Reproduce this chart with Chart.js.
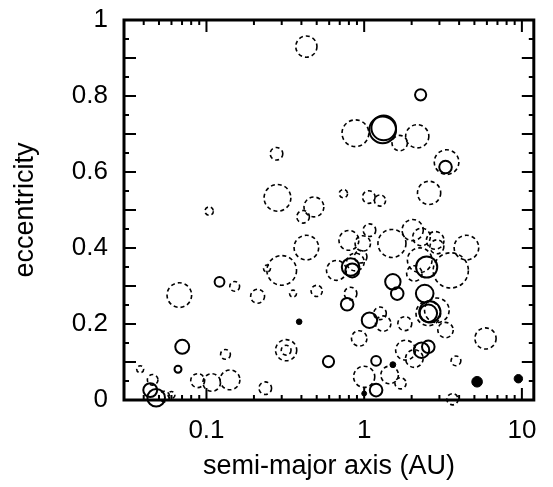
<!DOCTYPE html>
<html>
<head>
<meta charset="utf-8">
<script src="https://cdn.jsdelivr.net/npm/chart.js@4.4.1/dist/chart.umd.min.js"></script>
<style>
  html, body { margin: 0; padding: 0; background: #fff; }
</style>
</head>
<body>
<canvas id="ecc" width="553" height="487"></canvas>
<script>
// planets: semi-major axis (AU), eccentricity, mass (M_J)
// dashed outline
const dashedA = [0.43, 0.88, 1.68, 2.17, 3.33, 0.278, 2.58, 0.738, 1.07, 1.26, 0.282, 0.104, 0.48, 0.41,
  0.43, 4.45, 1.50, 1.08, 0.80, 0.98, 2.03, 2.31, 2.82, 2.89, 2.25, 3.54, 2.08, 0.88, 0.667, 0.95,
  0.30, 0.242, 0.0673, 0.151, 0.211, 0.354, 0.50, 0.82, 2.55, 2.89, 1.26, 1.32, 1.81, 3.28, 0.93,
  5.88, 1.83, 2.08, 3.82, 1.0, 1.45, 1.70, 3.63, 0.32, 0.32, 0.132, 0.088, 0.108, 0.141, 0.236,
  0.038, 0.0456, 0.060, 0.054];
const dashedE = [0.930, 0.702, 0.676, 0.694, 0.626, 0.648, 0.545, 0.543, 0.534, 0.525, 0.532, 0.497, 0.508, 0.482,
  0.401, 0.401, 0.412, 0.447, 0.420, 0.412, 0.447, 0.429, 0.420, 0.403, 0.368, 0.341, 0.333, 0.363, 0.341, 0.377,
  0.341, 0.346, 0.276, 0.299, 0.273, 0.280, 0.287, 0.280, 0.228, 0.236, 0.228, 0.201, 0.201, 0.184, 0.162,
  0.162, 0.131, 0.109, 0.103, 0.061, 0.066, 0.044, 0.002, 0.131, 0.131, 0.120, 0.051, 0.046, 0.053, 0.031,
  0.081, 0.053, 0.013, 0.009];
const dashedM = [9.5, 19.2, 3.65, 12.5, 14.9, 2.0, 12.5, 0.59, 2.0, 1.4, 19.2, 0.59, 7.8, 2.0,
  14.9, 14.9, 22, 2.0, 7.8, 3.65, 9.5, 5.45, 5.45, 2.7, 14.9, 43.6, 3.65, 5.45, 7.8, 2.0,
  26, 0.34, 14.9, 0.94, 2.7, 0.34, 1.4, 2.0, 14.9, 14.9, 2.0, 3.65, 2.7, 3.65, 3.65,
  9.5, 7.8, 5.45, 0.94, 9.5, 5.45, 1.4, 1.4, 9.5, 0.94, 0.94, 2.7, 5.45, 7.8, 2.0,
  0.34, 1.2, 0.34, 1.2];

// solid outline
const solidA = [2.28, 1.31, 1.33, 3.28, 0.82, 0.84, 2.49, 1.52, 1.62, 0.78, 2.42, 2.61, 2.55, 1.08,
  2.31, 2.55, 1.19, 1.19, 0.594, 0.0702, 0.066, 0.121, 0.044, 0.048];
const solidE = [0.803, 0.711, 0.716, 0.613, 0.350, 0.341, 0.350, 0.311, 0.280, 0.252, 0.280, 0.232, 0.228, 0.210,
  0.131, 0.140, 0.103, 0.026, 0.101, 0.140, 0.081, 0.311, 0.026, 0.006];
const solidM = [1.4, 19.2, 14.9, 2.0, 5.45, 2.7, 9.5, 3.65, 2.0, 2.0, 5.45, 9.5, 5.45, 3.65,
  3.65, 2.0, 0.94, 2.0, 1.4, 2.7, 0.34, 0.94, 2.7, 5.45];

// solar system (filled)
const solarA = [0.387, 1.0, 1.52, 5.2, 9.5];
const solarE = [0.206, 0.017, 0.093, 0.048, 0.056];
const solarM = [0.18, 0.12, 0.2, 1.2, 0.6];

const xTicks = [0.1, 1, 10];

const radius = m => 5 * Math.cbrt(m);
const pts = (a, e, m) => a.map((v, i) => ({ x: v, y: e[i], r: radius(m[i]) }));

const dashPlugin = {
  id: 'dash',
  beforeDatasetDraw(chart, args) {
    const ds = chart.data.datasets[args.index];
    chart.ctx.save();
    if (ds.dash) chart.ctx.setLineDash(ds.dash);
  },
  afterDatasetDraw(chart) {
    chart.ctx.restore();
  }
};

// inward ticks on all four sides plus the frame
const framePlugin = {
  id: 'frame',
  afterDatasetsDraw(chart) {
    const { ctx, chartArea: a, scales: { x, y } } = chart;
    ctx.save();
    ctx.strokeStyle = '#000';
    ctx.lineWidth = 2;
    ctx.beginPath();
    for (let i = 0; i <= 20; i++) {
      const py = y.getPixelForValue(i / 20);
      const len = i % 2 ? 5 : 12;
      ctx.moveTo(a.left, py); ctx.lineTo(a.left + len, py);
      ctx.moveTo(a.right, py); ctx.lineTo(a.right - len, py);
    }
    for (const dec of [0.01, 0.1, 1, 10]) {
      for (let k = 1; k < 10; k++) {
        const v = dec * k;
        if (v < x.min || v > x.max) continue;
        const px = x.getPixelForValue(v);
        const len = k === 1 ? 12 : 5;
        ctx.moveTo(px, a.top); ctx.lineTo(px, a.top + len);
        ctx.moveTo(px, a.bottom); ctx.lineTo(px, a.bottom - len);
      }
    }
    ctx.stroke();
    ctx.lineWidth = 3;
    ctx.strokeRect(a.left, a.top, a.right - a.left, a.bottom - a.top);
    ctx.restore();
  }
};

const noPad = s => { s.paddingTop = s.paddingBottom = s.paddingLeft = s.paddingRight = 0; };
const tickFont = { family: 'Liberation Sans, Arial, sans-serif', size: 26 };
const titleFont = { family: 'Liberation Sans, Arial, sans-serif', size: 27 };

new Chart('ecc', {
  type: 'bubble',
  data: {
    datasets: [{
      data: pts(dashedA, dashedE, dashedM),
      borderColor: '#000',
      backgroundColor: 'rgba(0,0,0,0)',
      borderWidth: 1.6,
      dash: [4, 3],
      clip: false
    }, {
      data: pts(solidA, solidE, solidM),
      borderColor: '#000',
      backgroundColor: 'rgba(0,0,0,0)',
      borderWidth: 2,
      clip: false
    }, {
      data: pts(solarA, solarE, solarM),
      borderColor: '#000',
      backgroundColor: '#000',
      borderWidth: 1,
      clip: false
    }]
  },
  options: {
    responsive: false,
    animation: false,
    layout: { padding: { left: 0, right: 13, top: 20, bottom: 0 } },
    scales: {
      x: {
        type: 'logarithmic',
        min: 0.03,
        max: 11.9,
        grid: { display: false, drawTicks: false },
        border: { display: false },
        afterBuildTicks: s => { s.ticks = xTicks.map(v => ({ value: v })); },
        afterFit: s => { s.height = 87; noPad(s); },
        ticks: { font: tickFont, color: '#000', padding: 15, maxRotation: 0, callback: v => String(v) },
        title: { display: true, text: 'semi-major axis (AU)', font: titleFont, color: '#000', padding: { top: 0, bottom: 4 } }
      },
      y: {
        min: 0,
        max: 1,
        grid: { display: false, drawTicks: false },
        border: { display: false },
        afterFit: s => { s.width = 124; noPad(s); },
        ticks: { font: tickFont, color: '#000', padding: 16, stepSize: 0.2, callback: v => String(+v.toFixed(1)) },
        title: { display: true, text: 'eccentricity', font: titleFont, color: '#000', padding: { top: 9, bottom: 0 } }
      }
    },
    plugins: {
      legend: { display: false },
      tooltip: { enabled: false }
    }
  },
  plugins: [dashPlugin, framePlugin]
});
</script>
</body>
</html>
